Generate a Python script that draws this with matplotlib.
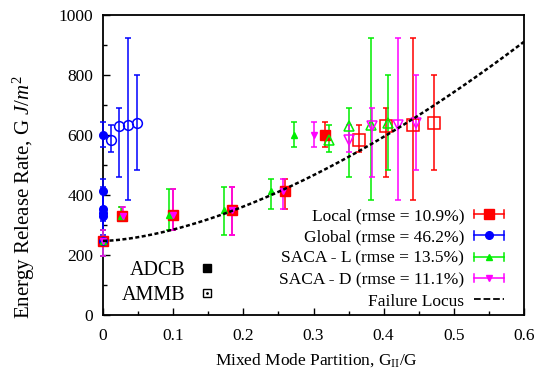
import numpy as np
import matplotlib
matplotlib.use("Agg")
import matplotlib.pyplot as plt
from matplotlib.lines import Line2D
from matplotlib.legend_handler import HandlerBase

plt.rcParams['font.family'] = ['Liberation Serif', 'DejaVu Serif']
plt.rcParams['mathtext.fontset'] = 'custom'
plt.rcParams['mathtext.rm'] = 'Liberation Serif'
plt.rcParams['mathtext.it'] = 'Liberation Serif:italic'

# ---- data ----
# ADCB specimens (filled markers): G and error-bar limits
G_adcb = [247, 330, 335, 350, 414, 600]
lo_adcb = [197, 314, 283, 267, 352, 561]
hi_adcb = [283, 361, 419, 428, 452, 644]
# AMMB specimens (open markers)
G_ammb = [585, 630, 634, 639]
lo_ammb = [542, 461, 385, 483]
hi_ammb = [633, 690, 922, 800]

# mode partition from each method
x_local_adcb = [0.0, 0.0275, 0.0997, 0.184, 0.260, 0.316]
x_local_ammb = [0.365, 0.404, 0.442, 0.4715]
x_global_adcb = [0.0, 0.0, 0.0, 0.0, 0.0, 0.0]
G_global_adcb = [247, 330, 339, 352, 414, 600]
x_global_ammb = [0.012, 0.023, 0.036, 0.048]
x_sacal_adcb = [0.0, 0.026, 0.094, 0.172, 0.239, 0.2725]
x_sacal_ammb = [0.322, 0.351, 0.382, 0.406]
x_sacad_adcb = [0.0, 0.028, 0.0997, 0.184, 0.257, 0.301]
x_sacad_ammb = [0.351, 0.384, 0.420, 0.446]

labels = ["Local (rmse = 10.9%)", "Global (rmse = 46.2%)",
          "SACA - L (rmse = 13.5%)", "SACA - D (rmse = 11.1%)", "Failure Locus"]

# failure locus (B-K criterion parameters)
GIc, GIIc, eta = 247, 1750, 1.6

fig = plt.figure(figsize=(5.37, 3.74), dpi=100)
ax = fig.add_axes([103/537, 1-315/374, 421/537, 300/374])

def err(G, lo, hi):
    G = np.array(G); return [G - np.array(lo), np.array(hi) - G]

series = [
    ("#ff0000", "s", 7, x_local_adcb, G_adcb, x_local_ammb),
    ("#0000ff", "o", 5.5, x_global_adcb, G_global_adcb, x_global_ammb),
    ("#00ee00", "^", 5, x_sacal_adcb, G_adcb, x_sacal_ammb),
    ("#ff00ff", "v", 5, x_sacad_adcb, G_adcb, x_sacad_ammb),
]
handles = []
for c, m, ms, xa, Ga, xm in series:
    for cont in (
        ax.errorbar(xa, Ga, yerr=err(Ga, lo_adcb, hi_adcb), fmt=m, color=c, ms=ms,
                    mec=c, mfc=c, ecolor=c, elinewidth=1.1, capsize=2.5, capthick=1.1, zorder=3),
        ax.errorbar(xm, G_ammb, yerr=err(G_ammb, lo_ammb, hi_ammb), fmt=m, color=c,
                    ms=ms + 1.5, mec=c, mfc='none', mew=1.1, ecolor=c, elinewidth=1.1,
                    capsize=2.5, capthick=1.1, zorder=3)):
        for a in cont.get_children():
            a.set_clip_on(False)
    handles.append(Line2D([], [], color=c, marker=m, ms=ms, lw=1.1))

xf = np.linspace(0, 0.6, 200)
ax.plot(xf, GIc + (GIIc - GIc) * xf ** eta, color='k', ls=(0, (1.6, 1.0)), lw=1.8, zorder=4)
handles.append(Line2D([], [], color='k', ls=(0, (1.5, 1)), lw=1.3))


class HErr(HandlerBase):
    def create_artists(self, legend, orig, xd, yd, w, h, fs, trans):
        y0 = (h - yd) / 2.0
        x0, x1 = -xd, -xd + w
        c = orig.get_color()
        if orig.get_marker() in (None, 'None', ''):
            ln = Line2D([x0, x1], [y0, y0], color=c, ls=orig.get_linestyle(), lw=orig.get_linewidth())
            ln.set_transform(trans)
            return [ln]
        arts = [Line2D([x0, x1], [y0, y0], color=c, lw=1.1),
                Line2D([x0, x0], [y0 - 3, y0 + 3], color=c, lw=1.1),
                Line2D([x1, x1], [y0 - 3, y0 + 3], color=c, lw=1.1),
                Line2D([(x0 + x1) / 2], [y0], color=c, marker=orig.get_marker(),
                       ms=orig.get_markersize(), ls='none')]
        for a in arts:
            a.set_transform(trans)
        return arts

leg = ax.legend(handles, labels, handler_map={Line2D: HErr()}, loc='lower right',
                bbox_to_anchor=(0.969, -0.005), frameon=False, markerfirst=False,
                fontsize=12.5, handlelength=1.7, handletextpad=0.6, labelspacing=0.3,
                borderaxespad=0)
ax.add_artist(leg)

k1 = Line2D([], [], color='k', marker='s', ms=6, ls='none')
k2 = (Line2D([], [], color='k', marker='s', ms=6, mfc='none', mew=1, ls='none'),
      Line2D([], [], color='k', marker='.', ms=2, ls='none'))
ax.legend([k1, k2], ["ADCB", "AMMB"], loc='lower left', bbox_to_anchor=(0.026, 0.007),
          frameon=False, markerfirst=False, fontsize=14.5, handlelength=1.0,
          handletextpad=0.55, labelspacing=0.3, borderaxespad=0)

ax.set_xlim(0, 0.6)
ax.set_ylim(0, 1000)
ax.set_xticks(np.arange(0, 0.61, 0.1))
ax.set_xticklabels(["0", "0.1", "0.2", "0.3", "0.4", "0.5", "0.6"])
ax.set_xticks(np.arange(0.05, 0.6, 0.1), minor=True)
ax.set_yticks(np.arange(0, 1001, 200))
ax.set_yticks(np.arange(100, 1000, 200), minor=True)
ax.tick_params(which='both', direction='in', labelsize=12.5, top=False, right=False)
ax.tick_params(which='major', length=5, width=1)
ax.tick_params(axis='x', which='major', pad=9)
ax.tick_params(axis='y', which='major', pad=7)
ax.tick_params(which='minor', length=3, width=1)
for s in ax.spines.values():
    s.set_linewidth(1.3)

ax.set_xlabel(r"Mixed Mode Partition, G$_{\mathrm{II}}$/G", fontsize=12.5)
ax.set_ylabel(r"Energy Release Rate, G $J/m^2$", fontsize=15)
ax.xaxis.set_label_coords(0.507, -0.12)
ax.yaxis.set_label_coords(-0.157, 0.392)

fig.savefig("out.png", dpi=100)
